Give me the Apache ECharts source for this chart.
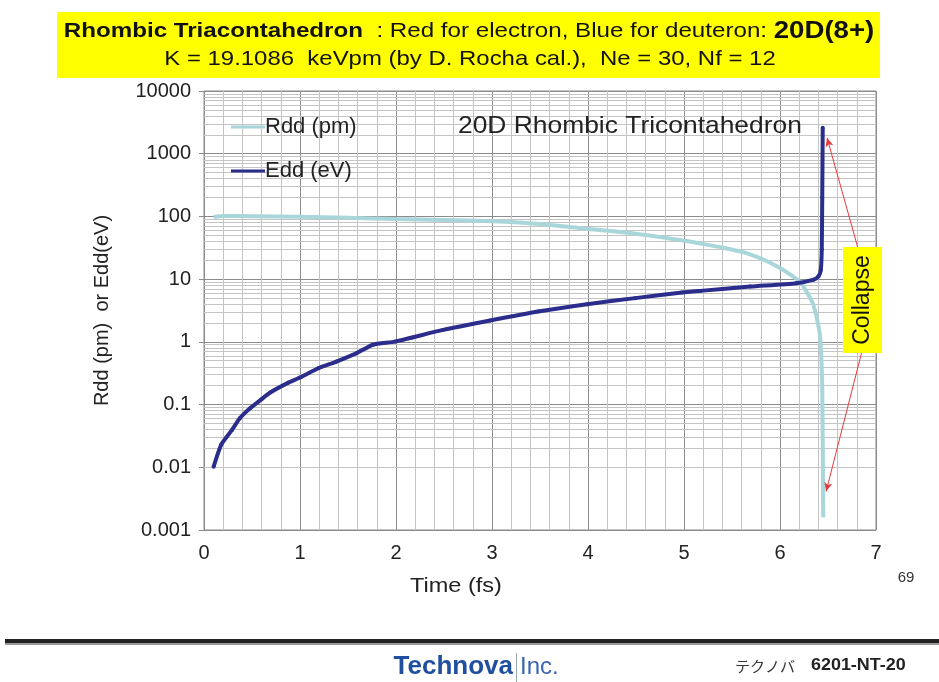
<!DOCTYPE html>
<html>
<head>
<meta charset="utf-8">
<script src="https://cdn.jsdelivr.net/npm/echarts@6/dist/echarts.min.js"></script>
<style>
  html, body { margin: 0; padding: 0; background: #fff; }
  #main { width: 939px; height: 682px; }
</style>
</head>
<body>
<div id="main"></div>
<script>
// Rdd / Edd vs time
var rddTime = [0.1, 0.2, 0.5, 1.0, 1.5, 2.0, 2.5, 3.0, 3.5, 3.92, 4.5, 4.96, 5.17, 5.4, 5.65, 5.86, 6.0, 6.1, 6.21, 6.3, 6.35, 6.4, 6.42, 6.44, 6.45]
var rddVal = [98, 102, 101, 99, 95, 91, 88, 84, 76, 65, 53, 42, 37, 32, 26, 19.5, 15, 12, 9, 5.5, 3.8, 1.8, 1.1, 0.2, 0.0016]

var eddTime = [0.1, 0.18, 0.29, 0.375, 0.48, 0.6, 0.69, 0.88, 1.0, 1.19, 1.38, 1.59, 1.76, 1.99, 2.49, 2.98, 3.48, 3.99, 4.49, 4.98, 5.17, 5.69, 6.17, 6.35, 6.4, 6.425, 6.435, 6.44, 6.445]
var eddVal = [0.0102, 0.023, 0.039, 0.061, 0.0875, 0.122, 0.156, 0.224, 0.27, 0.38, 0.485, 0.66, 0.9, 1.01, 1.55, 2.19, 3.05, 3.99, 4.98, 6.12, 6.5, 7.6, 8.6, 9.8, 11, 14, 30, 200, 2600]

var yTicks = [0.001, 0.01, 0.1, 1, 10, 100, 1000, 10000]
var yTickLabels = ['0.001', '0.01', '0.1', '1', '10', '100', '1000', '10000']

function pairs(xs, ys) {
    var out = []
    for (var i = 0; i < xs.length; i++) out.push([xs[i], ys[i]])
    return out
}

// log minor grid lines at 2..9 of each decade
var minorLines = []
for (var d = 0; d < yTicks.length - 1; d++) {
    for (var k = 2; k <= 9; k++) {
        minorLines.push({ yAxis: yTicks[d] * k })
    }
}

var chart = echarts.init(document.getElementById('main'))
var font = 'Liberation Sans, Arial, sans-serif'

var option = {
    backgroundColor: '#fff',
    textStyle: { fontFamily: font },
    grid: {
        left: 204, right: 63, top: 91, bottom: 152,
        show: true, borderColor: '#8a8a8a', borderWidth: 1, backgroundColor: '#fff'
    },
    legend: {
        orient: 'vertical',
        left: 226, top: 111, z: 10,
        itemWidth: 34, itemHeight: 3, itemGap: 22,
        textStyle: { fontSize: 22, color: '#222', padding: [0, 0, 0, -5] },
        data: [
            { name: 'Rdd (pm)', icon: 'rect' },
            { name: 'Edd (eV)', icon: 'rect' }
        ]
    },
    xAxis: {
        type: 'value', min: 0, max: 7, interval: 1,
        axisLine: { show: false },
        axisTick: { show: false },
        axisLabel: { fontSize: 20, color: '#222', margin: 13 },
        splitLine: { show: true, lineStyle: { color: '#8c8c8c', width: 1 } },
        minorTick: { show: false, splitNumber: 5 },
        minorSplitLine: { show: true, lineStyle: { color: '#c4c4c4', width: 1 } }
    },
    yAxis: {
        type: 'log', logBase: 10, min: 0.001, max: 10000, splitNumber: 7,
        name: 'Rdd (pm)  or Edd(eV)', nameLocation: 'middle', nameGap: 92,
        nameTextStyle: { fontSize: 20, color: '#222' },
        axisLine: { show: false },
        axisTick: { show: true, length: 5, lineStyle: { color: '#8c8c8c' } },
        axisLabel: {
            fontSize: 20, color: '#222', margin: 13,
            formatter: function (v) {
                var i = Math.round(Math.log10(v)) + 3
                return yTickLabels[i] !== undefined ? yTickLabels[i] : ''
            }
        },
        splitLine: { show: true, lineStyle: { color: '#8c8c8c', width: 1 } }
    },
    series: [
        {
            name: 'grid-minor', type: 'line', data: [], silent: true, z: 1,
            markLine: {
                silent: true, symbol: 'none', animation: false, z: 1,
                label: { show: false },
                emphasis: { disabled: true },
                lineStyle: { color: '#c4c4c4', width: 1, type: 'solid' },
                data: minorLines
            }
        },
        {
            name: 'Rdd (pm)', type: 'line', z: 3,
            data: pairs(rddTime, rddVal),
            showSymbol: false,
            smooth: 0.2,
            color: '#a8d6da',
            lineStyle: { color: '#a8d6da', width: 4 }
        },
        {
            name: 'Edd (eV)', type: 'line', z: 4,
            data: pairs(eddTime, eddVal),
            symbol: 'circle', symbolSize: 4, showSymbol: true,
            smooth: 0.2,
            color: '#2b2d8c',
            itemStyle: { color: '#2b2d8c' },
            lineStyle: { color: '#2b2d8c', width: 4 },
            markLine: {
                silent: true, animation: false, z: 6,
                symbol: ['none', 'arrow'], symbolSize: [6, 9],
                label: { show: false },
                lineStyle: { color: '#e8393c', width: 1, type: 'solid' },
                data: [
                    [{ coord: [6.81, 32] }, { coord: [6.49, 1800] }],
                    [{ coord: [6.85, 0.67] }, { coord: [6.48, 0.0041] }]
                ]
            }
        }
    ],
    graphic: {
        elements: [
            // title box
            { type: 'rect', z: 20, shape: { x: 57, y: 12, width: 823, height: 66 }, style: { fill: '#ffff00' } },
            {
                type: 'text', z: 21, x: 469, y: 31, scaleX: 1.15,
                style: {
                    text: '{a|Rhombic Triacontahedron}{b|  : Red for electron, Blue for deuteron: }{c|20D(8+)}',
                    align: 'center', verticalAlign: 'middle',
                    rich: {
                        a: { fontFamily: font, fontSize: 21, fontWeight: 'bold', fill: '#111' },
                        b: { fontFamily: font, fontSize: 21, fill: '#111' },
                        c: { fontFamily: font, fontSize: 24, fontWeight: 'bold', fill: '#111' }
                    }
                }
            },
            {
                type: 'text', z: 21, x: 470, y: 59, scaleX: 1.14,
                style: {
                    text: 'K = 19.1086  keVpm (by D. Rocha cal.),  Ne = 30, Nf = 12',
                    align: 'center', verticalAlign: 'middle',
                    font: '21px ' + font, fill: '#111'
                }
            },
            {
                type: 'text', z: 21, x: 458, y: 126, scaleX: 1.1,
                style: { text: '20D Rhombic Tricontahedron', verticalAlign: 'middle', font: '24px ' + font, fill: '#222' }
            },
            // collapse label
            { type: 'rect', z: 20, shape: { x: 843, y: 247, width: 39, height: 106 }, style: { fill: '#ffff00' } },
            {
                type: 'text', z: 21, x: 863, y: 300, rotation: Math.PI / 2,
                style: { text: 'Collapse', align: 'center', verticalAlign: 'middle', font: '23px ' + font, fill: '#111' }
            },
            {
                type: 'text', z: 21, x: 456, y: 586, scaleX: 1.12,
                style: { text: 'Time (fs)', align: 'center', verticalAlign: 'middle', font: '21px ' + font, fill: '#222' }
            },
            {
                type: 'text', z: 21, x: 906, y: 578,
                style: { text: '69', align: 'center', verticalAlign: 'middle', font: '15px ' + font, fill: '#333' }
            },
            // footer
            { type: 'rect', z: 20, shape: { x: 5, y: 639, width: 934, height: 4 }, style: { fill: '#222' } },
            { type: 'rect', z: 20, shape: { x: 5, y: 643, width: 934, height: 2 }, style: { fill: '#999' } },
            {
                type: 'text', z: 21, x: 513, y: 667,
                style: { text: 'Technova', align: 'right', verticalAlign: 'middle', font: 'bold 26px ' + font, fill: '#1f4f9e' }
            },
            { type: 'rect', z: 20, shape: { x: 516, y: 653, width: 1, height: 29 }, style: { fill: '#9aa' } },
            {
                type: 'text', z: 21, x: 520, y: 667,
                style: { text: 'Inc.', verticalAlign: 'middle', font: '24px ' + font, fill: '#3a66b0' }
            },
            {
                type: 'text', z: 21, x: 735, y: 666,
                style: { text: 'テクノバ', verticalAlign: 'middle', font: '15px "Noto Sans CJK JP"', fill: '#333' }
            },
            {
                type: 'text', z: 21, x: 811, y: 666, scaleX: 1.12,
                style: { text: '6201-NT-20', verticalAlign: 'middle', font: 'bold 16px ' + font, fill: '#222' }
            }
        ]
    }
}
chart.setOption(option)
</script>
</body>
</html>
